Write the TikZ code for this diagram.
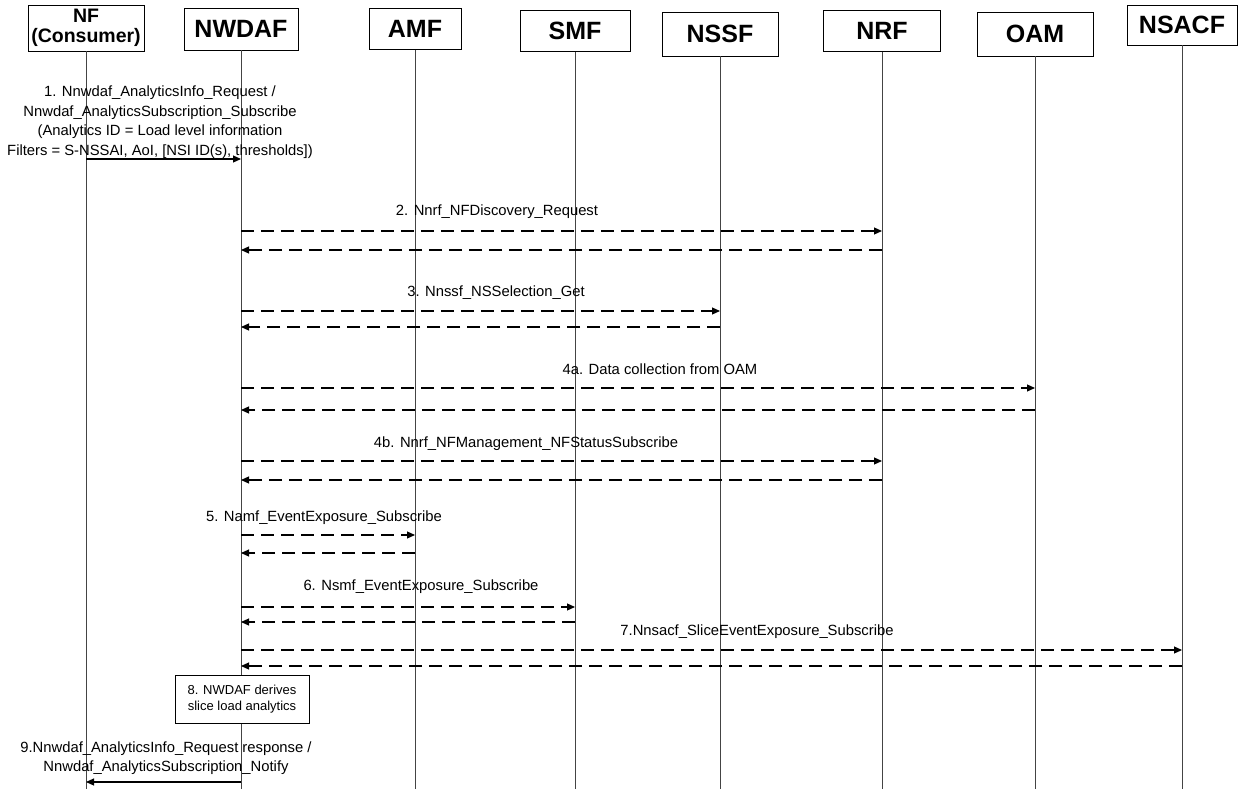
\documentclass[tikz,border=0pt]{standalone}
\usepackage{fontspec}
\setmainfont{Liberation Sans}
\usetikzlibrary{arrows.meta, positioning}
\definecolor{Ink} {HTML}{000000}
\definecolor{Life}{HTML}{444444}

\tikzset{
  entity/.style={draw=Ink, line width=0.9pt, fill=white, inner sep=0pt,
                 align=center, font=\fontsize{25}{26}\selectfont\bfseries},
  lifeline/.style={draw=Life, line width=1pt},
  msgtext/.style={inner sep=0pt, align=center, text=Ink,
                  font=\fontsize{14.8}{19.5}\selectfont},
  sync/.style={draw=Ink, line width=1.1pt, -{Triangle[length=8pt, width=7pt]}},
  async/.style={sync, dash pattern=on 13pt off 7pt},
  notebox/.style={draw=Ink, line width=0.9pt, fill=white, align=center,
                  font=\fontsize{13}{16}\selectfont}
}

\begin{document}
\begin{tikzpicture}[x=1pt, y=-1pt]
  \useasboundingbox (0,0) rectangle (1240,789);
  % Entities
  \node[entity, minimum width=116, minimum height=46,
        font=\fontsize{19.5}{19.5}\selectfont\bfseries] (NF) at (86,28) {NF\\(Consumer)};
  \node[entity, minimum width=114, minimum height=42] (NWDAF) at (241,29) {NWDAF};
  \node[entity, minimum width=92,  minimum height=41] (AMF)   at (415,29) {AMF};
  \node[entity, minimum width=110, minimum height=41] (SMF)   at (575,31) {SMF};
  \node[entity, minimum width=116, minimum height=44] (NSSF)  at (720,34) {NSSF};
  \node[entity, minimum width=117, minimum height=41] (NRF)   at (882,31) {NRF};
  \node[entity, minimum width=116, minimum height=44] (OAM)   at (1035,34) {OAM};
  \node[entity, minimum width=110, minimum height=40] (NSACF) at (1182,25) {NSACF};
  % Lifelines
  \foreach \nd in {NF, NWDAF, AMF, SMF, NSSF, NRF, OAM, NSACF}
    \draw[lifeline] (\nd.south) -- (\nd.south |- 0,789);

  % 1. request from the consumer
  \node[msgtext] (m1) at (160,122)
    {1. Nnwdaf\_AnalyticsInfo\_Request /\\
     Nnwdaf\_AnalyticsSubscription\_Subscribe\\
     (Analytics ID = Load level information\\
     Filters = S-NSSAI, AoI, [NSI ID(s), thresholds])};
  \draw[sync] (NF |- 0,159) -- (NWDAF |- 0,159);

  % 2 - 7. data collection
  \node[msgtext] (m2)  at (497,212) {2. Nnrf\_NFDiscovery\_Request};
  \node[msgtext] (m3)  at (496,293) {3. Nnssf\_NSSelection\_Get};
  \node[msgtext] (m4a) at (660,369) {4a. Data collection from OAM};
  \node[msgtext] (m4b) at (526,444) {4b. Nnrf\_NFManagement\_NFStatusSubscribe};
  \node[msgtext] (m5)  at (324,518) {5. Namf\_EventExposure\_Subscribe};
  \node[msgtext] (m6)  at (421,587) {6. Nsmf\_EventExposure\_Subscribe};
  \node[msgtext] (m7)  at (757,632) {7.Nnsacf\_SliceEventExposure\_Subscribe};
  \foreach \dst/\ya/\yb in {NRF/231/250, NSSF/311/327, OAM/388/410, NRF/461/480,
                            AMF/535/553, SMF/607/622, NSACF/650/666} {
    \draw[async] (NWDAF |- 0,\ya) -- (\dst |- 0,\ya);
    \draw[async] (\dst |- 0,\yb) -- (NWDAF |- 0,\yb);
  }

  % 8. analytics
  \node[notebox, minimum width=134, minimum height=48] (derive) at (242,699)
    {8. NWDAF derives\\slice load analytics};

  % 9. response / notification
  \node[msgtext] (m9) at (166,758)
    {9.Nnwdaf\_AnalyticsInfo\_Request response /\\
     Nnwdaf\_AnalyticsSubscription\_Notify};
  \draw[sync] (NWDAF |- 0,782) -- (NF |- 0,782);
\end{tikzpicture}
\end{document}
